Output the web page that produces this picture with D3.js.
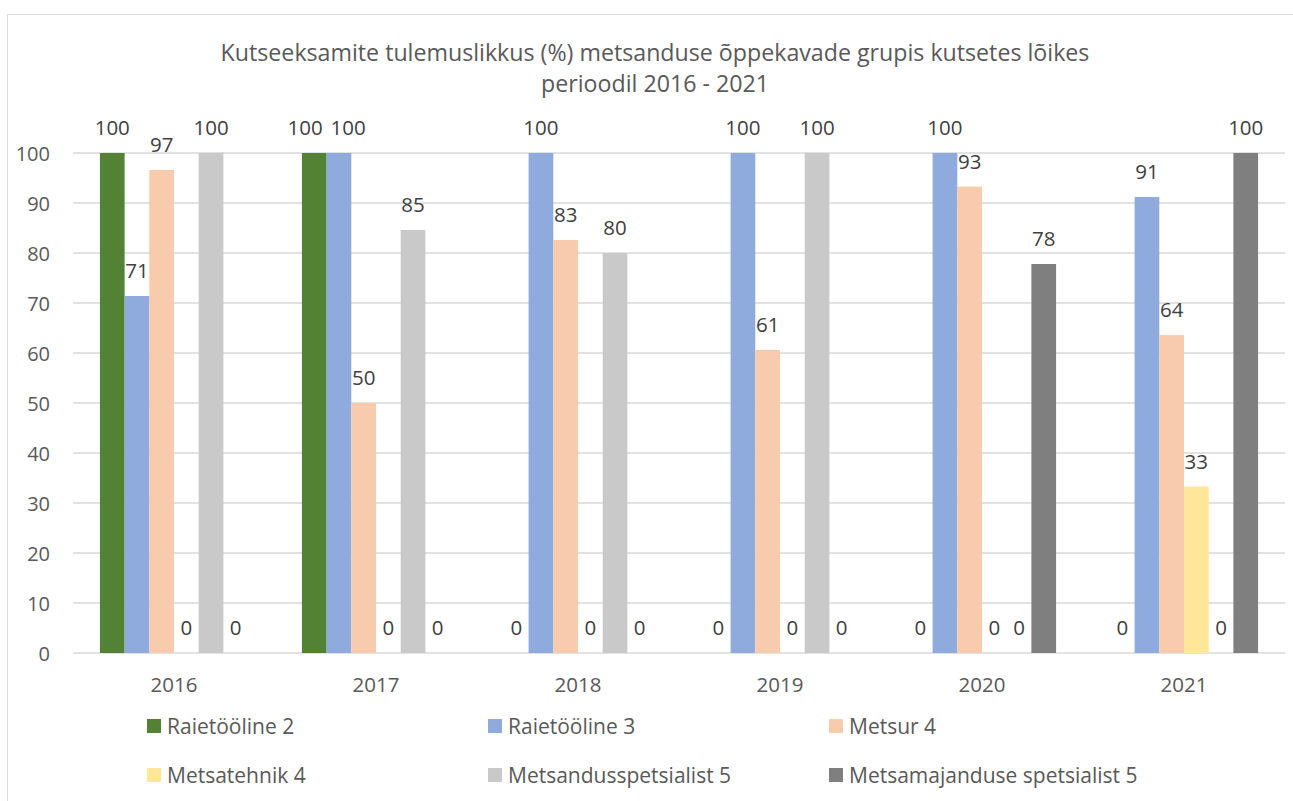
<!DOCTYPE html>
<html>
<head>
<meta charset="utf-8">
<script src="https://cdn.jsdelivr.net/npm/d3@7"></script>
<style>
  html, body { margin: 0; padding: 0; background: #fff; }
  svg { display: block; font-family: "Open Sans", Lato, sans-serif; }
</style>
</head>
<body>
<svg id="chart" width="1293" height="801"></svg>
<script>
const titleLines = ["Kutseeksamite tulemuslikkus (%) metsanduse õppekavade grupis kutsetes lõikes", "perioodil 2016 - 2021"];
const years = ["2016", "2017", "2018", "2019", "2020", "2021"];
const seriesNames = ["Raietööline 2", "Raietööline 3", "Metsur 4", "Metsatehnik 4", "Metsandusspetsialist 5", "Metsamajanduse spetsialist 5"];
const seriesColors = ["#548235", "#8faadc", "#f8cbad", "#ffe699", "#c9c9c9", "#7f7f7f"];
const raietooline2 = [100, 100, 0, 0, 0, 0];
const raietooline3 = [71.4, 100, 100, 100, 100, 91.2];
const metsur4 = [96.6, 50, 82.6, 60.6, 93.3, 63.6];
const metsatehnik4 = [0, 0, 0, 0, 0, 33.3];
const metsandusspets5 = [100, 84.6, 80, 100, 0, 0];
const metsamajSpets5 = [0, 0, 0, 0, 77.8, 100];
const yTicks = [0, 10, 20, 30, 40, 50, 60, 70, 80, 90, 100];

const seriesValues = [raietooline2, raietooline3, metsur4, metsatehnik4, metsandusspets5, metsamajSpets5];

const svg = d3.select("#chart");
const textColor = "#595959";
const gridColor = "#d9d9d9";
const fontFam = "'Open Sans', Lato, sans-serif";

// chart border
svg.append("rect").attr("x", 7.5).attr("y", 14.5).attr("width", 1300).attr("height", 800)
  .attr("fill", "none").attr("stroke", gridColor).attr("stroke-width", 1);

// title
svg.append("g").selectAll("text").data(titleLines).join("text")
  .attr("x", 655).attr("y", (d, i) => 61 + i * 31)
  .attr("text-anchor", "middle").attr("fill", textColor)
  .attr("font-size", 23.2).text(d => d);

const plot = { left: 73, right: 1285, top: 153, bottom: 653 };

const x0 = d3.scaleBand().domain(years).range([plot.left, plot.right]).padding(0);
const x1 = d3.scaleBand().domain(d3.range(seriesNames.length)).range([0, x0.bandwidth()])
  .paddingInner(0).paddingOuter(1.09);
const y = d3.scaleLinear().domain([0, 100]).range([plot.bottom, plot.top]);

// gridlines
svg.append("g").selectAll("line").data(yTicks).join("line")
  .attr("x1", plot.left).attr("x2", plot.right)
  .attr("y1", d => y(d)).attr("y2", d => y(d))
  .attr("stroke", gridColor).attr("stroke-width", 1.5);

// y axis labels
const yAxis = d3.axisLeft(y).tickValues(yTicks).tickSize(0).tickPadding(0);
const yg = svg.append("g").attr("transform", `translate(50,0)`).call(yAxis);
yg.select(".domain").remove();
yg.selectAll("text").attr("fill", textColor).attr("font-size", 20)
  .attr("font-family", fontFam).attr("dy", "0.35em");

// x axis labels
const xAxis = d3.axisBottom(x0).tickSize(0).tickPadding(0);
const xg = svg.append("g").attr("transform", `translate(0,${plot.bottom})`).call(xAxis);
xg.select(".domain").remove();
xg.selectAll("text").attr("fill", textColor).attr("font-size", 20.5)
  .attr("font-family", fontFam).attr("dy", 0).attr("y", 39);

// bars
const cells = [];
years.forEach((yr, gi) => {
  seriesValues.forEach((vals, si) => {
    cells.push({ year: yr, gi, si, value: vals[gi] });
  });
});

const barG = svg.append("g");
barG.selectAll("rect").data(cells.filter(d => d.value > 0)).join("rect")
  .attr("x", d => x0(d.year) + x1(d.si))
  .attr("y", d => y(d.value))
  .attr("width", x1.bandwidth())
  .attr("height", d => y(0) - y(d.value))
  .attr("fill", d => seriesColors[d.si]);

// data labels
const fmt = d3.format(".0f");
const labels = svg.append("g").selectAll("text").data(cells).join("text")
  .attr("x", d => x0(d.year) + x1(d.si) + x1.bandwidth() / 2)
  .attr("y", d => y(d.value) - 18)
  .attr("text-anchor", "middle").attr("fill", "#404040")
  .attr("font-size", 20.5).text(d => fmt(d.value));

// simple collision resolution within each group
years.forEach(yr => {
  const nodes = labels.filter(d => d.year === yr).nodes();
  const boxes = nodes.map(n => ({ n, b: n.getBBox(), dx: 0 }));
  for (let i = 0; i < boxes.length; i++) {
    for (let j = i + 1; j < boxes.length; j++) {
      const a = boxes[i], c = boxes[j];
      const vOverlap = a.b.y < c.b.y + c.b.height - 4 && c.b.y < a.b.y + a.b.height - 4;
      const overlap = (a.b.x + a.b.width + 8) - c.b.x;
      if (vOverlap && overlap > 0) {
        a.dx -= overlap / 2; c.dx += overlap / 2;
      }
    }
  }
  boxes.forEach(bx => {
    if (bx.dx !== 0) d3.select(bx.n).attr("x", +bx.n.getAttribute("x") + bx.dx);
  });
});

// legend
const legCols = [147, 488, 829];
const legRows = [719, 768];
const leg = svg.append("g").selectAll("g").data(seriesNames).join("g")
  .attr("transform", (d, i) => `translate(${legCols[i % 3]},${legRows[Math.floor(i / 3)]})`);
leg.append("rect").attr("width", 14).attr("height", 14).attr("fill", (d, i) => seriesColors[i]);
leg.append("text").attr("x", 20).attr("y", 14.5).attr("fill", textColor)
  .attr("font-size", 21).text(d => d);
</script>
</body>
</html>
